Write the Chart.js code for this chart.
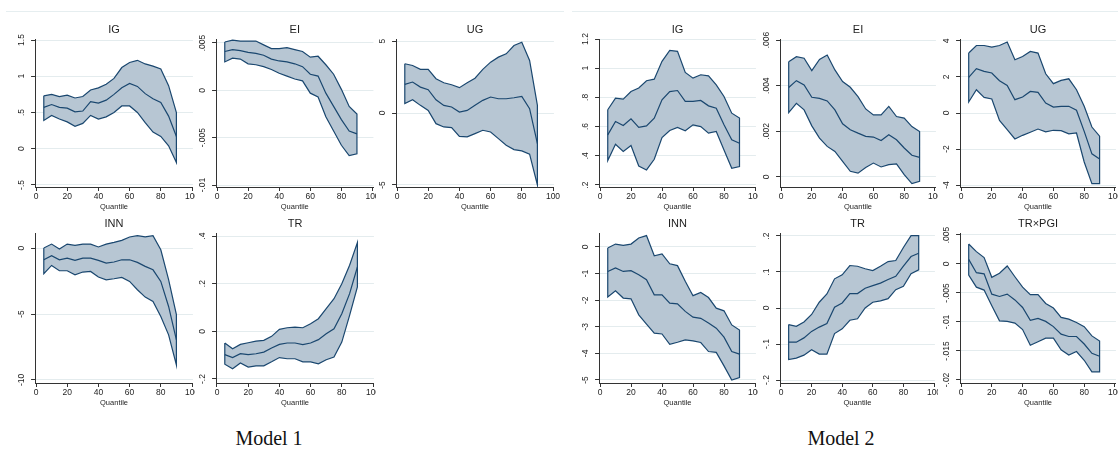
<!DOCTYPE html>
<html>
<head>
<meta charset="utf-8">
<script src="https://cdn.jsdelivr.net/npm/chart.js@4.4.1/dist/chart.umd.min.js"></script>
<style>
  html, body { margin: 0; padding: 0; background: #ffffff; }
  #wrap { position: relative; width: 1118px; height: 454px; overflow: hidden; }
  #wrap canvas { position: absolute; }
  .rule { position: absolute; top: 11px; height: 1px; background: #e6eef0; }
  .model { position: absolute; top: 427px; width: 200px; text-align: center;
           font-family: "Liberation Serif", "Times New Roman", serif; font-size: 20px; color: #111; }
</style>
</head>
<body>
<div id="wrap">
  <div class="rule" style="left:6px;width:558px"></div>
  <div class="rule" style="left:572px;width:546px"></div>
  <div class="model" style="left:169px">Model 1</div>
  <div class="model" style="left:741px">Model 2</div>
</div>
<script>
// Quantile grid shared by every panel
const QUANTILES = [5, 10, 15, 20, 25, 30, 35, 40, 45, 50, 55, 60, 65, 70, 75, 80, 85, 90];
const X_TICKS = ['0', '20', '40', '60', '80', '100'];

// ---- Model 1 ----
const m1IgUpper = [.73, .75, .72, .74, .70, .72, .81, .84, .89, .97, 1.12, 1.19, 1.22, 1.17, 1.14, 1.10, .87, .50];
const m1IgCoef  = [.57, .61, .57, .56, .51, .52, .65, .63, .67, .75, .84, .90, .86, .76, .69, .64, .45, .17];
const m1IgLower = [.39, .46, .41, .37, .31, .35, .46, .41, .44, .50, .59, .59, .50, .36, .23, .17, .04, -.19];
const m1IgTicks = ['1.5', '1', '.5', '0', '-.5'];

const m1EiUpper = [.0051, .0053, .0052, .0052, .0052, .0048, .0044, .0044, .0045, .0043, .0041, .0035, .0036, .0027, .0017, .0001, -.0017, -.0025];
const m1EiCoef  = [.0041, .0043, .0042, .0040, .0039, .0037, .0033, .0031, .0030, .0028, .0025, .0017, .0015, -.0003, -.0017, -.0031, -.0043, -.0046];
const m1EiLower = [.0030, .0034, .0033, .0028, .0027, .0025, .0022, .0018, .0015, .0012, .0010, -.0003, -.0007, -.0028, -.0043, -.0058, -.0069, -.0067];
const m1EiTicks = ['.005', '0', '-.005', '-.01'];

const m1UgUpper = [3.42, 3.30, 3.03, 3.03, 2.38, 2.10, 1.96, 1.76, 2.10, 2.42, 3.03, 3.53, 3.88, 4.11, 4.69, 4.92, 3.65, .53];
const m1UgCoef  = [1.99, 2.15, 1.80, 1.62, .92, .53, .42, .07, .18, .53, .88, 1.11, .99, .99, 1.06, 1.15, .30, -2.12];
const m1UgLower = [.65, .92, .53, .18, -.74, -.97, -1.02, -1.62, -1.66, -1.43, -1.20, -1.32, -1.78, -2.24, -2.54, -2.63, -2.86, -5.0];
const m1UgTicks = ['5', '0', '-5'];

const m1InnUpper = [0, .30, -.08, .30, .20, .30, .30, .08, .30, .43, .58, .84, .94, .84, .94, -.13, -2.4, -5.05];
const m1InnCoef  = [-.89, -.58, -.89, -.76, -.94, -.76, -.76, -.94, -1.14, -1.06, -.89, -.89, -1.09, -1.39, -1.65, -2.53, -4.43, -6.96];
const m1InnLower = [-1.95, -1.32, -1.72, -1.72, -2.03, -1.82, -1.77, -2.2, -2.41, -2.33, -2.23, -2.53, -3.16, -3.72, -4.05, -5.19, -6.58, -8.86];
const m1InnTicks = ['0', '-5', '-10'];

const m1TrUpper = [-.049, -.073, -.055, -.048, -.041, -.038, -.021, .008, .015, .018, .015, .032, .053, .095, .137, .2, .277, .372];
const m1TrCoef  = [-.098, -.11, -.094, -.098, -.094, -.087, -.07, -.055, -.049, -.049, -.056, -.049, -.035, -.01, .011, .074, .158, .27];
const m1TrLower = [-.138, -.157, -.133, -.15, -.145, -.145, -.128, -.11, -.115, -.115, -.128, -.128, -.136, -.119, -.108, -.045, .067, .186];
const m1TrTicks = ['.4', '.2', '0', '-.2'];

// ---- Model 2 ----
const m2IgUpper = [.715, .795, .788, .84, .864, .914, .925, 1.047, 1.122, 1.115, .971, .932, .955, .948, .886, .806, .692, .658];
const m2IgCoef  = [.543, .635, .607, .653, .595, .605, .658, .784, .84, .847, .772, .772, .779, .742, .726, .612, .509, .486];
const m2IgLower = [.367, .479, .429, .47, .33, .303, .376, .525, .573, .594, .571, .612, .60, .555, .566, .44, .314, .326];
const m2IgTicks = ['1.2', '1', '.8', '.6', '.4', '.2'];

const m2EiUpper = [.00505, .00527, .0052, .00466, .00515, .00534, .00469, .00418, .00393, .00352, .00298, .00272, .00272, .00309, .00265, .00258, .00221, .00199];
const m2EiCoef  = [.00392, .00422, .00403, .00349, .00344, .00333, .00294, .00233, .00207, .00192, .00178, .00175, .0016, .00185, .00163, .00127, .00095, .00086];
const m2EiLower = [.00282, .00323, .00294, .00224, .0017, .00134, .00112, .00068, .00025, .00017, .00042, .00061, .00044, .00054, .00057, .0001, -.00029, -.00019];
const m2EiTicks = ['.006', '.004', '.002', '0'];

const m2UgUpper = [3.33, 3.75, 3.75, 3.66, 3.75, 3.94, 2.96, 3.14, 3.42, 3.33, 2.18, 1.63, 1.81, 1.90, 1.29, .37, -.78, -1.29];
const m2UgCoef  = [1.98, 2.46, 2.31, 2.22, 1.79, 1.53, .74, .89, 1.20, 1.15, .55, .33, .37, .37, .15, -1.02, -2.27, -2.55];
const m2UgLower = [.61, 1.29, .87, .78, -.41, -.92, -1.44, -1.24, -1.07, -.89, -1.05, -.96, -.98, -1.16, -1.11, -2.72, -3.92, -3.92];
const m2UgTicks = ['4', '2', '0', '-2', '-4'];

const m2InnUpper = [-.04, .11, .06, .11, .34, .43, -.33, -.26, -.63, -.70, -1.29, -1.83, -1.71, -1.90, -2.30, -2.40, -2.93, -3.12];
const m2InnCoef  = [-.92, -.79, -.92, -.89, -1.04, -1.23, -1.80, -1.80, -2.11, -2.14, -2.42, -2.64, -2.68, -2.86, -3.05, -3.39, -3.93, -4.03];
const m2InnLower = [-1.88, -1.65, -1.92, -1.95, -2.55, -2.90, -3.24, -3.27, -3.66, -3.58, -3.49, -3.53, -3.59, -3.93, -3.96, -4.47, -5.0, -4.91];
const m2InnTicks = ['0', '-1', '-2', '-3', '-4', '-5'];

const m2TrUpper = [-.046, -.051, -.039, -.018, .016, .039, .081, .092, .118, .116, .109, .104, .116, .129, .132, .168, .201, .201];
const m2TrCoef  = [-.095, -.095, -.083, -.065, -.053, -.043, .002, .014, .040, .040, .055, .062, .069, .079, .088, .116, .143, .152];
const m2TrLower = [-.143, -.139, -.131, -.116, -.128, -.128, -.071, -.058, -.034, -.030, 0, .016, .020, .026, .051, .060, .095, .106];
const m2TrTicks = ['.2', '.1', '0', '-.1', '-.2'];

const m2TrPgiUpper = [.00345, .00213, .00109, -.0023, -.0016, -.00034, -.0022, -.0040, -.0053, -.0053, -.0068, -.0076, -.0092, -.0095, -.0101, -.0108, -.0124, -.0133];
const m2TrPgiCoef  = [.0008, -.0015, -.0017, -.0052, -.0056, -.0052, -.0062, -.0075, -.0097, -.0094, -.0099, -.0108, -.0121, -.0125, -.0125, -.0138, -.0154, -.0159];
const m2TrPgiLower = [-.0019, -.0040, -.0045, -.0072, -.0098, -.0099, -.0102, -.0113, -.0140, -.0134, -.0128, -.0128, -.0148, -.0157, -.0151, -.0166, -.0186, -.0186];
const m2TrPgiTicks = ['.005', '0', '-.005', '-.01', '-.015', '-.02'];

// ---- styling ----
const NAVY = '#1a476f';
const BAND = '#b7c6d3';
const GRID = '#e4ecee';
const AXIS = '#333333';
const INK = '#1e1e1e';
const SANS = '"Liberation Sans", Arial, sans-serif';
const X_MIN = -0.6, X_MAX = 100.6;

// canvas rows: canvas top/bottom and plot-region top/bottom (page px)
const ROWS = [
  { top: 14, bottom: 214, plotTop: 39, plotBottom: 187 },
  { top: 211, bottom: 412, plotTop: 233, plotBottom: 383 }
];

// x0/x100: page x of quantile 0 and 100; clip: right edge of the panel image
const panels = [
  { title: 'IG',  upper: m1IgUpper,  coef: m1IgCoef,  lower: m1IgLower,  ticks: m1IgTicks,  yMin: -.528,  yMax: 1.514,  row: 0, x0: 36,  x100: 192,   clip: 195 },
  { title: 'EI',  upper: m1EiUpper,  coef: m1EiCoef,  lower: m1EiLower,  ticks: m1EiTicks,  yMin: -.01021, yMax: .00542, row: 0, x0: 217, x100: 372.5, clip: 376 },
  { title: 'UG',  upper: m1UgUpper,  coef: m1UgCoef,  lower: m1UgLower,  ticks: m1UgTicks,  yMin: -5.14,  yMax: 5.14,   row: 0, x0: 397, x100: 553,   clip: 566 },
  { title: 'INN', upper: m1InnUpper, coef: m1InnCoef, lower: m1InnLower, ticks: m1InnTicks, yMin: -10.23, yMax: 1.14,   row: 1, x0: 36,  x100: 192,   clip: 195 },
  { title: 'TR',  upper: m1TrUpper,  coef: m1TrCoef,  lower: m1TrLower,  ticks: m1TrTicks,  yMin: -.2168, yMax: .4126,  row: 1, x0: 217, x100: 373,   clip: 376 },

  { title: 'IG',  upper: m2IgUpper,  coef: m2IgCoef,  lower: m2IgLower,  ticks: m2IgTicks,  yMin: .186,   yMax: 1.2,    row: 0, x0: 600, x100: 755,  clip: 758 },
  { title: 'EI',  upper: m2EiUpper,  coef: m2EiCoef,  lower: m2EiLower,  ticks: m2EiTicks,  yMin: -.000438, yMax: .006044, row: 0, x0: 781, x100: 935, clip: 938 },
  { title: 'UG',  upper: m2UgUpper,  coef: m2UgCoef,  lower: m2UgLower,  ticks: m2UgTicks,  yMin: -4.11,  yMax: 4.11,   row: 0, x0: 961, x100: 1115, clip: 1118 },
  { title: 'INN', upper: m2InnUpper, coef: m2InnCoef, lower: m2InnLower, ticks: m2InnTicks, yMin: -5.113, yMax: .526,   row: 1, x0: 600, x100: 755,  clip: 758 },
  { title: 'TR',  upper: m2TrUpper,  coef: m2TrCoef,  lower: m2TrLower,  ticks: m2TrTicks,  yMin: -.2083, yMax: .2083,  row: 1, x0: 781, x100: 934,  clip: 938 },
  { title: 'TR×PGI', upper: m2TrPgiUpper, coef: m2TrPgiCoef, lower: m2TrPgiLower, ticks: m2TrPgiTicks, yMin: -.02052, yMax: .00534, row: 1, x0: 961, x100: 1115, clip: 1118 }
];

function toPoints(values) {
  return values.map((v, i) => ({ x: QUANTILES[i], y: v }));
}

// Confidence band as a closed outline: upper bound left→right, lower bound right→left
function bandOutline(upper, lower) {
  const pts = toPoints(upper).concat(toPoints(lower).reverse());
  pts.push(pts[0]);
  return pts;
}

function panelTextPlugin(p) {
  return {
    id: 'panelText',
    afterDraw(chart) {
      const { ctx, chartArea } = chart;
      const x = chart.scales.x, y = chart.scales.y;
      ctx.save();
      ctx.fillStyle = INK;
      ctx.textAlign = 'center';
      ctx.textBaseline = 'middle';

      ctx.font = '11px ' + SANS;
      ctx.fillText(p.title, (x.getPixelForValue(0) + x.getPixelForValue(100)) / 2, chartArea.top - 9);

      ctx.font = '8.5px ' + SANS;
      X_TICKS.forEach(t => ctx.fillText(t, x.getPixelForValue(parseFloat(t)), chartArea.bottom + 10));

      ctx.font = '7.5px ' + SANS;
      ctx.fillText('Quantile', x.getPixelForValue(50), chartArea.bottom + 19.5);

      ctx.font = '8.5px ' + SANS;
      p.ticks.forEach(t => {
        const py = y.getPixelForValue(parseFloat(t));
        ctx.save();
        ctx.translate(chartArea.left - 13, py);
        ctx.rotate(-Math.PI / 2);
        ctx.fillText(t, 0, 0);
        ctx.restore();
      });
      ctx.restore();
    }
  };
}

const wrap = document.getElementById('wrap');

panels.forEach(p => {
  const row = ROWS[p.row];
  const pxPerUnit = (p.x100 - p.x0) / 100;
  const areaLeft = p.x0 + X_MIN * pxPerUnit;
  const areaRight = p.x0 + X_MAX * pxPerUnit;
  const cLeft = p.x0 - 34;
  const cWidth = p.clip - cLeft;
  const cHeight = row.bottom - row.top;

  const canvas = document.createElement('canvas');
  canvas.width = cWidth;
  canvas.height = cHeight;
  canvas.style.left = cLeft + 'px';
  canvas.style.top = row.top + 'px';
  canvas.style.width = cWidth + 'px';
  canvas.style.height = cHeight + 'px';
  wrap.appendChild(canvas);

  new Chart(canvas, {
    type: 'scatter',
    data: {
      datasets: [
        {
          // point estimate, drawn on top of the band
          order: 0,
          data: toPoints(p.coef),
          showLine: true,
          fill: false,
          borderColor: NAVY,
          borderWidth: 1.2,
          pointRadius: 0,
          tension: 0
        },
        {
          // confidence band
          order: 1,
          data: bandOutline(p.upper, p.lower),
          showLine: true,
          fill: 'shape',
          backgroundColor: BAND,
          borderColor: NAVY,
          borderWidth: 1.2,
          pointRadius: 0,
          tension: 0
        }
      ]
    },
    options: {
      responsive: false,
      animation: false,
      events: [],
      layout: { padding: { top: row.plotTop - row.top, left: 0, right: p.clip - areaRight, bottom: 0 } },
      plugins: { legend: { display: false }, tooltip: { enabled: false }, title: { display: false } },
      scales: {
        x: {
          type: 'linear',
          min: X_MIN,
          max: X_MAX,
          afterBuildTicks: s => { s.ticks = X_TICKS.map(t => ({ value: parseFloat(t) })); },
          afterFit: s => { s.height = row.bottom - row.plotBottom; },
          ticks: { display: false },
          grid: { drawOnChartArea: false, drawTicks: true, tickLength: 4, tickColor: AXIS, tickWidth: 1 },
          border: { display: true, color: AXIS, width: 1 }
        },
        y: {
          type: 'linear',
          min: p.yMin,
          max: p.yMax,
          afterBuildTicks: s => { s.ticks = p.ticks.map(t => ({ value: parseFloat(t) })); },
          afterFit: s => { s.width = areaLeft - cLeft; },
          ticks: { display: false },
          grid: { color: GRID, lineWidth: 1, drawTicks: true, tickLength: 4, tickColor: AXIS, tickWidth: 1 },
          border: { display: true, color: AXIS, width: 1 }
        }
      }
    },
    plugins: [panelTextPlugin(p)]
  });
});
</script>
</body>
</html>
